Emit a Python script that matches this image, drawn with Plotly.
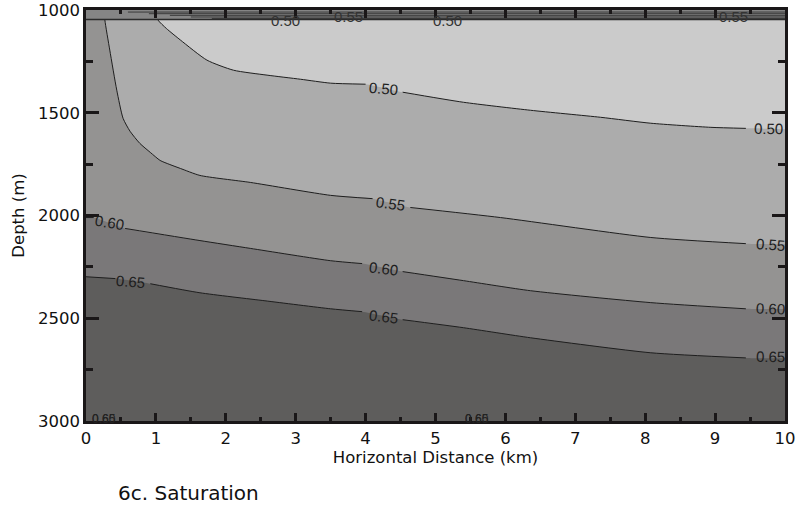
import plotly.graph_objects as go

# ---- data ----
levels = ["0.50", "0.55", "0.60", "0.65"]

# contour depths (m) along horizontal distance (km); None = gap for inline label
x50 = [0.98, 1.03, 1.15, 1.35, 1.73, 2.11, 2.59, 3.07, 3.50, 4.00, None, 4.53, 5.40, 6.36, 7.36, 8.08, 8.94, 9.44]
d50 = [1000, 1049, 1090, 1146, 1244, 1293, 1317, 1337, 1356, 1361, None, 1400, 1449, 1488, 1522, 1551, 1571, 1576]

x55 = [0.26, 0.27, 0.34, 0.44, 0.53, 0.63, 0.77, 0.92, 1.06, 1.20, 1.35, 1.63, 2.35, 3.50, 4.10, None, 4.64, 5.93, 8.08, 9.44]
d55 = [1000, 1049, 1195, 1390, 1527, 1590, 1649, 1693, 1732, 1752, 1771, 1805, 1839, 1902, 1918, None, 1961, 2010, 2107, 2137]

x60 = [0.00, 0.11, None, 0.56, 1.63, 2.35, 3.50, 3.95, None, 4.53, 5.40, 6.36, 8.08, 9.44]
d60 = [2010, 2010, None, 2063, 2122, 2160, 2220, 2234, None, 2273, 2317, 2366, 2424, 2454]

x65 = [0.00, 0.42, None, 0.92, 1.63, 2.56, 3.50, 3.95, None, 4.53, 5.40, 6.36, 8.08, 9.44]
d65 = [2298, 2307, None, 2332, 2376, 2415, 2454, 2468, None, 2507, 2546, 2595, 2668, 2693]

# depth of each contour at the right edge (fill continues under the label)
edge_d = [1580, 2140, 2456, 2695]

# inline labels: text, x, depth, angle
lab_text = ["0.50", "0.55", "0.60", "0.65", "0.60", "0.65", "0.50", "0.55", "0.60", "0.65"]
lab_x = [4.25, 4.36, 4.25, 4.25, 0.34, 0.64, 9.77, 9.79, 9.79, 9.79]
lab_d = [1380, 1941, 2259, 2493, 2034, 2322, 1576, 2141, 2454, 2688]
lab_ang = [5, 8, 7, 7, 9, 5, 1, 4, 2, 1]

# labels crowded in the thin top layer
top_text = ["0.50", "0.55", "0.50", "0.55"]
top_x = [2.85, 3.75, 5.17, 9.27]
top_d = [1049, 1034, 1049, 1034]
band_lines = [1010, 1018, 1026, 1034, 1041]

# overlapping labels at the bottom
bot_x = [0.26, 5.59]

x_ticks = list(range(0, 11))
y_ticks = [1000, 1500, 2000, 2500, 3000]

fills = ["#cbcbcb", "#acacac", "#949392", "#7a7879", "#5e5d5c"]
FONT = "DejaVu Sans"
LFONT = "Liberation Sans, Arial"

fig = go.Figure()

def clean(xs, ds):
    px = [a for a in xs if a is not None]
    pd_ = [b for b in ds if b is not None]
    return px, pd_

lines = [(x50, d50), (x55, d55), (x60, d60), (x65, d65)]
SM = 0.6

# filled regions, deepest first
for i in [3, 2, 1, 0]:
    xs, ds = clean(*lines[i])
    # repeated corner points keep the frame corners sharp under spline smoothing
    px = xs + [10, 10, 10, 10, 10, 10]
    py = ds + [edge_d[i], edge_d[i], edge_d[i], 990, 990, 990]
    x0 = xs[0] if xs[0] > 0 else -0.1
    px = px + [x0, x0, x0]
    py = py + [990, 990, 990]
    fig.add_trace(go.Scatter(x=px, y=py, mode="lines", fill="toself",
                             fillcolor=fills[i], line=dict(width=0, shape="spline", smoothing=SM),
                             hoverinfo="skip", showlegend=False))

# contour lines
for xs, ds in lines:
    fig.add_trace(go.Scatter(x=xs, y=ds, mode="lines",
                             line=dict(color="#1e1e1e", width=1, shape="spline", smoothing=SM),
                             connectgaps=False, hoverinfo="skip", showlegend=False))

# thin top layer
fig.add_trace(go.Scatter(x=[0, 10, 10, 0], y=[1000, 1000, 1046, 1046], mode="lines",
                         fill="toself", fillcolor="#858585", line=dict(width=0),
                         hoverinfo="skip", showlegend=False))
for k, bd in enumerate(band_lines):
    fig.add_trace(go.Scatter(x=[0.6 + 0.3 * k, 10], y=[bd, bd], mode="lines",
                             line=dict(color="#3a3a3a", width=1),
                             hoverinfo="skip", showlegend=False))
fig.add_trace(go.Scatter(x=[0, 10], y=[1046, 1046], mode="lines",
                         line=dict(color="#2a2a2a", width=1.5),
                         hoverinfo="skip", showlegend=False))

ann = []
for t, x, d, a in zip(lab_text, lab_x, lab_d, lab_ang):
    ann.append(dict(x=x, y=d, text=t, showarrow=False, textangle=a,
                    font=dict(family=LFONT, size=15, color="#1e1e1e")))
for t, x, d in zip(top_text, top_x, top_d):
    ann.append(dict(x=x, y=d, text=t, showarrow=False,
                    font=dict(family=LFONT, size=15, color="#333333")))
for x in bot_x:
    for t in ["0.65", "0.60"]:
        ann.append(dict(x=x, y=3000, text=t, showarrow=False, yshift=2,
                        font=dict(family=LFONT, size=12, color="#222222")))

ann.append(dict(x=(188 - 86) / 699, y=-(493 - 421) / 411, xref="paper", yref="paper",
                xanchor="center", yanchor="middle",
                text="6c. Saturation", showarrow=False,
                font=dict(family=FONT, size=20, color="#111111")))

axis_common = dict(showline=True, linecolor="#1a1718", linewidth=2.5, mirror="allticks",
                   ticks="inside", tickcolor="#1a1718", tickwidth=2.5,
                   showgrid=False, zeroline=False, automargin=False,
                   tickfont=dict(family=FONT, size=16.5, color="#111111"))

fig.update_layout(
    width=799, height=507,
    margin=dict(l=86, r=14, t=10, b=86),
    paper_bgcolor="white", plot_bgcolor=fills[4],
    showlegend=False,
    annotations=ann,
    xaxis=dict(range=[0, 10], tickvals=x_ticks, ticklen=8,
               minor=dict(dtick=0.5, ticks="inside", ticklen=4, tickcolor="#1a1718", tickwidth=2.5),
               title=dict(text="Horizontal Distance (km)", standoff=2,
                          font=dict(family=FONT, size=16.5, color="#111111")),
               **axis_common),
    yaxis=dict(range=[3000, 1000], tickvals=y_ticks, ticklen=13,
               minor=dict(dtick=250, ticks="inside", ticklen=7, tickcolor="#1a1718", tickwidth=2.5),
               title=dict(text="Depth (m)", standoff=10,
                          font=dict(family=FONT, size=16.5, color="#111111")),
               **axis_common),
)

fig.write_html("out.html")
